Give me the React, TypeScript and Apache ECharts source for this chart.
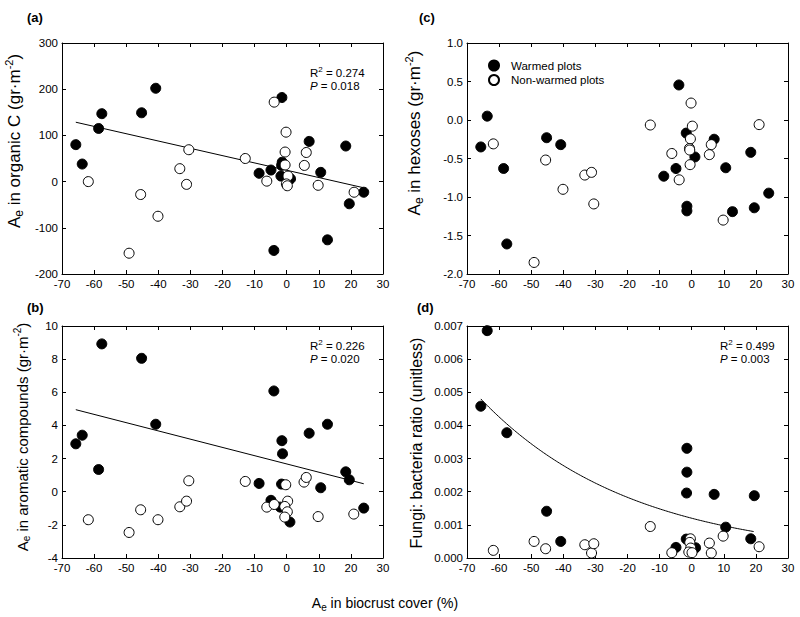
import React, { useEffect, useRef } from "react";
import * as echarts from "echarts";

const FONT = '"Liberation Sans", Arial, Helvetica, sans-serif';

// ---------- data ----------
const xTickLabels = [-70, -60, -50, -40, -30, -20, -10, 0, 10, 20, 30];

// (a) Ae in organic C
const aWarmed: [number, number][] = [
  [-65.7, 80], [-63.7, 38], [-58.6, 115], [-57.6, 147], [-45.2, 149], [-40.8, 202],
  [-8.6, 18], [-4.9, 25], [-4.0, -149], [-1.5, 182], [-1.4, 42], [-1.6, 35], [-1.8, 12],
  [1.2, 6], [7.0, 87], [10.6, 20], [12.7, -126], [18.4, 77], [19.5, -48], [24.0, -23],
];
const aNonWarmed: [number, number][] = [
  [-61.8, 0], [-49.1, -155], [-45.5, -28], [-40.1, -75], [-33.3, 28], [-31.2, -6], [-30.5, 69],
  [-12.9, 50], [-6.2, 1], [-3.9, 172], [-0.2, 107], [-0.5, 64], [-0.5, 36], [0.4, 12],
  [-0.1, -5], [0.2, -9], [5.5, 35], [6.1, 63], [9.8, -8], [21.0, -23],
];
const aFit: [number, number][] = [[-65.7, 128.5], [24.0, -13.4]];

// (b) Ae in aromatic compounds
const bWarmed: [number, number][] = [
  [-65.7, 2.89], [-63.7, 3.41], [-58.6, 1.34], [-57.6, 8.92], [-45.2, 8.05], [-40.8, 4.07],
  [-8.6, 0.5], [-4.9, -0.52], [-4.0, 6.08], [-1.5, 3.08], [-1.3, 2.29], [-1.6, 0.46], [-2.0, -0.93],
  [1.0, -1.83], [7.0, 3.53], [10.6, 0.24], [12.7, 4.07], [18.4, 1.2], [19.5, 0.72], [24.0, -0.99],
];
const bNonWarmed: [number, number][] = [
  [-61.8, -1.69], [-49.1, -2.46], [-45.5, -1.09], [-40.1, -1.69], [-33.3, -0.91], [-31.2, -0.57],
  [-30.5, 0.66], [-12.9, 0.62], [-6.2, -0.93], [-3.9, -0.77], [-0.3, 0.42], [0.3, -0.57],
  [-0.6, -0.89], [0.2, -1.21], [-0.6, -1.53], [5.4, 0.58], [6.1, 0.86], [9.8, -1.5], [20.9, -1.35],
];
const bFit: [number, number][] = [[-65.7, 4.95], [24.0, 0.48]];

// (c) Ae in hexoses
const cWarmed: [number, number][] = [
  [-65.7, -0.35], [-63.7, 0.05], [-58.6, -0.63], [-57.6, -1.61], [-45.2, -0.23], [-40.8, -0.32],
  [-8.7, -0.73], [-4.9, -0.63], [-4.0, 0.455], [-1.7, -0.17], [-1.5, -1.12], [-1.5, -1.18],
  [1.0, -0.48], [7.0, -0.25], [10.6, -0.62], [12.7, -1.19], [18.4, -0.42], [19.5, -1.14], [24.0, -0.95],
];
const cNonWarmed: [number, number][] = [
  [-61.8, -0.31], [-49.1, -1.85], [-45.5, -0.52], [-40.1, -0.9], [-33.3, -0.715], [-31.2, -0.68],
  [-30.5, -1.09], [-12.9, -0.065], [-6.2, -0.435], [-3.9, -0.777], [-0.2, 0.22], [0.2, -0.08],
  [-0.4, -0.245], [-0.7, -0.37], [-0.6, -0.39], [-0.5, -0.58], [5.5, -0.45], [6.1, -0.32],
  [9.8, -1.3], [21.0, -0.06],
];

// (d) Fungi : bacteria ratio
const dWarmed: [number, number][] = [
  [-65.7, 0.00458], [-63.7, 0.00686], [-57.6, 0.00378], [-45.2, 0.00141], [-40.8, 0.0005],
  [-4.9, 0.00032], [-1.5, 0.00331], [-1.5, 0.00259], [-1.6, 0.00196], [-1.7, 0.00057],
  [1.2, 0.00031], [7.0, 0.00192], [10.6, 0.00093], [18.4, 0.00058], [19.5, 0.00188],
];
const dNonWarmed: [number, number][] = [
  [-61.8, 0.00023], [-49.1, 0.0005], [-45.5, 0.00028], [-33.3, 0.0004], [-31.2, 0.00015],
  [-30.5, 0.00043], [-12.9, 0.00095], [-6.2, 0.00016], [-0.4, 0.00058], [-0.6, 0.00047],
  [-0.3, 0.0003], [-0.9, 0.00018], [0.1, 0.00016], [5.5, 0.00045], [6.1, 0.00015],
  [9.8, 0.00066], [21.0, 0.00034],
];
// exponential regression y = A * exp(B * x)
const dFitA = 0.0012;
const dFitB = -0.0211;
const dFitRange: [number, number] = [-65.7, 19.5];

const seriesNames = ["Warmed plots", "Non-warmed plots"];
const panelLetters = ["(a)", "(b)", "(c)", "(d)"];
const yTitles = [
  "{n|A}{sub|e}{n| in organic C (gr·m}{sup|-2}{n|)}",
  "{n|A}{sub|e}{n| in aromatic compounds (gr·m}{sup|-2}{n|)}",
  "{n|A}{sub|e}{n| in hexoses (gr·m}{sup|-2}{n|)}",
  "{n|Fungi: bacteria ratio (unitless)}",
];
const xTitle = "{n|A}{sub|e}{n| in biocrust cover (%)}";
const yRanges: [number, number, number][] = [
  [-200, 300, 100],
  [-4, 10, 2],
  [-2, 1, 0.5],
  [0, 0.007, 0.001],
];
const yDecimals = [0, 0, 1, 3];
const statR2 = ["0.274", "0.226", null, "0.499"];
const statP = ["0.018", "0.020", null, "0.003"];

// ---------- layout ----------
const grids = [
  { left: 62, top: 43, width: 321, height: 231 },
  { left: 62, top: 326, width: 321, height: 232 },
  { left: 467, top: 43, width: 321, height: 231 },
  { left: 467, top: 326, width: 321, height: 232 },
];
const letterPos = [[27, 17], [27, 307], [419, 17], [417, 307]];
const yTitlePos = [[14, 141], [22, 437], [414, 133], [416, 443]];
const yTitleSize = [17, 15, 17, 16];
const statPos = [[310, 73], [310, 346], null, [720, 346]];

function buildOption() {
  const black = "#000";
  const xAxis: any[] = [];
  const yAxis: any[] = [];
  grids.forEach((_, i) => {
    const [ymin, ymax, yint] = yRanges[i];
    const common = {
      type: "value",
      gridIndex: i,
      splitLine: { show: false },
      axisLine: { show: true, onZero: false, lineStyle: { color: black, width: 1 } },
      axisTick: { show: true, inside: true, length: 4, lineStyle: { color: black, width: 1 } },
    };
    xAxis.push({
      ...common,
      position: "bottom",
      min: xTickLabels[0],
      max: xTickLabels[xTickLabels.length - 1],
      interval: 10,
      axisLabel: { color: black, fontSize: 11.5, fontFamily: FONT, margin: 4 },
    });
    xAxis.push({
      ...common,
      position: "top",
      min: xTickLabels[0],
      max: xTickLabels[xTickLabels.length - 1],
      interval: 10,
      axisLabel: { show: false },
    });
    yAxis.push({
      ...common,
      position: "left",
      min: ymin,
      max: ymax,
      interval: yint,
      axisLabel: {
        color: black,
        fontSize: 11.5,
        fontFamily: FONT,
        margin: 4,
        formatter: (v: number) => v.toFixed(yDecimals[i]),
      },
    });
    yAxis.push({
      ...common,
      position: "right",
      min: ymin,
      max: ymax,
      interval: yint,
      axisLabel: { show: false },
    });
  });

  const scatter = (i: number, data: [number, number][], filled: boolean) => ({
    type: "scatter",
    name: filled ? seriesNames[0] : seriesNames[1],
    xAxisIndex: 2 * i,
    yAxisIndex: 2 * i,
    data,
    symbol: "circle",
    symbolSize: 10,
    itemStyle: filled
      ? { color: black, borderColor: black, borderWidth: 1, opacity: 1 }
      : { color: "#fff", borderColor: black, borderWidth: 1, opacity: 1 },
    emphasis: { disabled: true },
    z: filled ? 3 : 4,
  });
  const fitLine = (i: number, data: [number, number][]) => ({
    type: "line",
    xAxisIndex: 2 * i,
    yAxisIndex: 2 * i,
    data,
    symbol: "none",
    showSymbol: false,
    smooth: false,
    silent: true,
    lineStyle: { color: black, width: 1 },
    z: 2,
  });

  const dCurve: [number, number][] = [];
  for (let x = dFitRange[0]; x <= dFitRange[1] + 1e-9; x += 0.5) {
    dCurve.push([x, dFitA * Math.exp(dFitB * x)]);
  }

  const series: any[] = [
    fitLine(0, aFit),
    scatter(0, aWarmed, true),
    scatter(0, aNonWarmed, false),
    fitLine(1, bFit),
    scatter(1, bWarmed, true),
    scatter(1, bNonWarmed, false),
    scatter(2, cWarmed, true),
    scatter(2, cNonWarmed, false),
    fitLine(3, dCurve),
    scatter(3, dWarmed, true),
    scatter(3, dNonWarmed, false),
  ];

  const rich = (size: number) => ({
    n: { fontSize: size, fontFamily: FONT, fill: black, lineHeight: size + 4, verticalAlign: "middle" },
    sub: { fontSize: Math.round(size * 0.68), fontFamily: FONT, fill: black, lineHeight: Math.round(size * 0.6), verticalAlign: "bottom" },
    sup: { fontSize: Math.round(size * 0.66), fontFamily: FONT, fill: black, lineHeight: Math.round(size * 0.6), verticalAlign: "top" },
    i: { fontSize: size, fontFamily: FONT, fontStyle: "italic", fill: black, lineHeight: size + 4, verticalAlign: "middle" },
  });

  const graphic: any[] = [];
  panelLetters.forEach((t, i) => {
    graphic.push({
      type: "text",
      x: letterPos[i][0],
      y: letterPos[i][1],
      style: {
        text: t,
        font: `bold 13px ${FONT}`,
        fill: black,
        align: "left",
        verticalAlign: "middle",
      },
    });
    graphic.push({
      type: "text",
      x: yTitlePos[i][0],
      y: yTitlePos[i][1],
      rotation: Math.PI / 2,
      style: {
        text: yTitles[i],
        rich: rich(yTitleSize[i]),
        align: "center",
        verticalAlign: "middle",
      },
    });
    const sp = statPos[i];
    if (sp && statR2[i]) {
      graphic.push({
        type: "text",
        x: sp[0],
        y: sp[1],
        style: {
          text: `{n|R}{sup|2}{n| = ${statR2[i]}}`,
          rich: rich(11.5),
          align: "left",
          verticalAlign: "middle",
        },
      });
      graphic.push({
        type: "text",
        x: sp[0],
        y: sp[1] + 12.5,
        style: {
          text: `{i|P}{n| = ${statP[i]}}`,
          rich: rich(11.5),
          align: "left",
          verticalAlign: "middle",
        },
      });
    }
  });
  graphic.push({
    type: "text",
    x: 385,
    y: 603,
    style: {
      text: xTitle,
      rich: rich(14),
      align: "center",
      verticalAlign: "middle",
    },
  });

  return {
    animation: false,
    backgroundColor: "#fff",
    textStyle: { fontFamily: FONT },
    grid: grids.map((g) => ({ ...g, containLabel: false })),
    xAxis,
    yAxis,
    legend: {
      data: seriesNames,
      orient: "vertical",
      left: 488,
      top: 59.5,
      padding: 0,
      itemWidth: 10,
      itemHeight: 10,
      itemGap: 2.5,
      icon: "circle",
      selectedMode: false,
      textStyle: { color: black, fontSize: 11.5, fontFamily: FONT, padding: [0, 0, 0, 7] },
    },
    series,
    graphic,
  };
}

export default function App() {
  const ref = useRef<HTMLDivElement>(null);
  useEffect(() => {
    if (!ref.current) return;
    const chart = echarts.init(ref.current, null, { renderer: "svg" });
    chart.setOption(buildOption() as any);
    return () => chart.dispose();
  }, []);
  return (
    <div
      ref={ref}
      style={{ position: "absolute", left: 0, top: 0, width: 800, height: 617, background: "#fff" }}
    />
  );
}
